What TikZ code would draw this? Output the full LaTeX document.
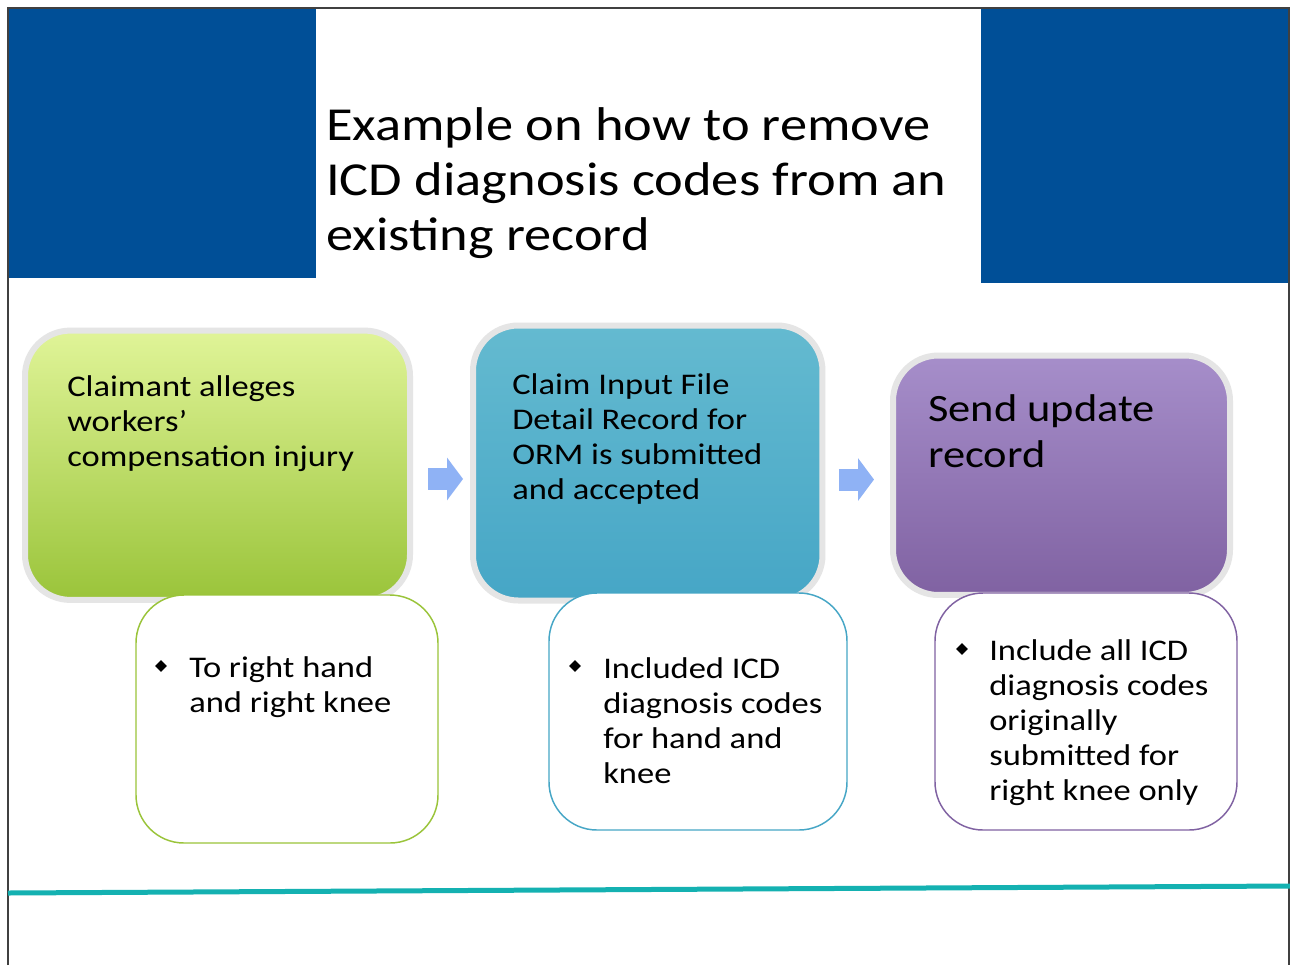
\documentclass[tikz,border=0pt]{standalone}
\usepackage{fontspec}
\setmainfont{Carlito}[FakeStretch=1.15]
\usetikzlibrary{positioning, shapes.geometric, arrows.meta, shadows}

\definecolor{slideblue}{RGB}{0,79,151}
\definecolor{rulecyan}{RGB}{20,177,177}
\definecolor{greentop}{RGB}{224,244,152}
\definecolor{greenbot}{RGB}{154,196,58}
\definecolor{bluetop}{RGB}{100,186,208}
\definecolor{bluebot}{RGB}{70,166,198}
\definecolor{violettop}{RGB}{166,142,202}
\definecolor{violetbot}{RGB}{128,98,162}
\definecolor{arrowblue}{RGB}{143,178,245}

\begin{document}
\begin{tikzpicture}[x=0.75pt, y=-0.75pt,
	stepbox/.style={rectangle, rounded corners=34pt, draw=black!10, line width=4.5pt,
		drop shadow={shadow xshift=-1.5pt, shadow yshift=-1.5pt, opacity=0.2}},
	notebox/.style={rectangle, rounded corners=36pt, fill=white, line width=1.1pt},
	steptext/.style={anchor=north west, inner sep=0pt, align=left, font=\fontsize{22.5}{26.25}\selectfont},
	bullet/.style={diamond, fill=black, inner sep=0pt, minimum size=9pt},
	flowarrow/.style={draw=arrowblue, line width=16.5pt, -{Triangle[length=12pt, width=31.5pt]}}
]
	\useasboundingbox (0,0) rectangle (1290,965);
	\fill[white] (0,0) rectangle (1290,965);

	% title banner
	\fill[slideblue] (8,8) rectangle (316,278);
	\fill[slideblue] (981,8) rectangle (1289,283);
	\draw[black!75, line width=1.5pt] (8,965) -- (8,8) -- (1289,8) -- (1289,965);
	\node[anchor=north west, inner sep=0pt, align=left, font=\fontsize{35.5}{41.25}\selectfont] (title) at (326,107)
		{Example on how to remove\\ICD diagnosis codes from an\\existing record};

	% steps
	\node[stepbox, top color=greentop, bottom color=greenbot, minimum width=288.75pt, minimum height=202pt] (claim) at (217.5,465.25) {};
	\node[stepbox, top color=bluetop, bottom color=bluebot, minimum width=262.1pt, minimum height=206.25pt] (cif) at (647.75,463) {};
	\node[stepbox, top color=violettop, bottom color=violetbot, minimum width=252.75pt, minimum height=179.6pt] (update) at (1061.5,475.25) {};

	\node[steptext] (claimtxt) at (67,375) {Claimant alleges\\workers’\\compensation injury};
	\node[steptext] (ciftxt) at (512,373) {Claim Input File\\Detail Record for\\ORM is submitted\\and accepted};
	\node[steptext, font=\fontsize{29}{34.5}\selectfont] (updatetxt) at (928,394) {Send update\\record};

	\coordinate (a1) at ([yshift=-10.3pt]claim.east);
	\coordinate (a2) at ([yshift=-12.4pt]cif.east);
	\draw[flowarrow, shorten <=11.25pt, shorten >=5.25pt] (a1) -- (a1 -| cif.west);
	\draw[flowarrow, shorten <=10pt, shorten >=12pt] (a2) -- (a2 -| update.west);

	% notes
	\node[notebox, draw=greenbot, minimum width=226.5pt, minimum height=186pt] (note1) at (287,719) {};
	\node[notebox, draw=bluebot, minimum width=223.5pt, minimum height=177.75pt] (note2) at (698,711.5) {};
	\node[notebox, draw=violetbot, minimum width=226.5pt, minimum height=177.75pt] (note3) at (1086,711.5) {};

	\node[bullet] (b1) at (161,666) {};
	\node[bullet] (b2) at (575,666) {};
	\node[bullet] (b3) at (962,649) {};
	\node[steptext] (note1txt) at (189,656) {To right hand\\and right knee};
	\node[steptext] (note2txt) at (603,657) {Included ICD\\diagnosis codes\\for hand and\\knee};
	\node[steptext] (note3txt) at (989,639) {Include all ICD\\diagnosis codes\\originally\\submitted for\\right knee only};

	% bottom rule
	\draw[rulecyan, line width=3.75pt] (8,893) -- (1290,886);
\end{tikzpicture}
\end{document}
